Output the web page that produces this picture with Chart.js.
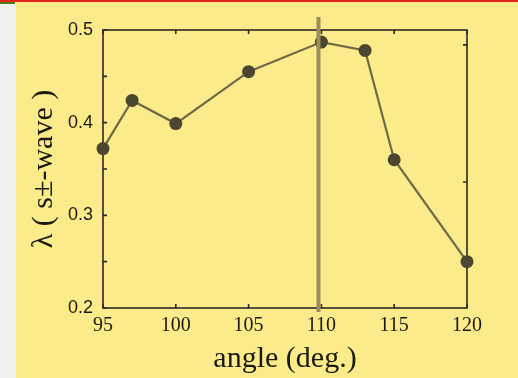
<!DOCTYPE html>
<html>
<head>
<meta charset="utf-8">
<script src="https://cdn.jsdelivr.net/npm/chart.js@4.4.1/dist/chart.umd.min.js"></script>
<style>
  html, body { margin: 0; padding: 0; background: #FCEB8A; overflow: hidden; }
  canvas { display: block; }
</style>
</head>
<body>
<canvas id="c" width="518" height="378"></canvas>
<script>
// Measured order parameter versus angle
const angles = [95, 97, 100, 105, 110, 113, 115, 120];
const lambdaValues = [0.372, 0.424, 0.399, 0.455, 0.487, 0.478, 0.360, 0.250];

// Axis ticks
const xTickValues = [95, 100, 105, 110, 115, 120];
const yTickValues = [0.2, 0.25, 0.3, 0.35, 0.4, 0.45, 0.5];
const yLabelValues = [0.2, 0.3, 0.4, 0.5];
const rightTickValues = [0.484, 0.336];

// Vertical marker position (deg.)
const markerAngle = 109.8;

const INK = '#2b2a20';

const framePlugin = {
  id: 'frame',
  beforeDraw(chart) {
    const { ctx, width } = chart;
    ctx.save();
    // pale strip on the left edge
    ctx.fillStyle = '#F1F1EF';
    ctx.fillRect(0, 0, 16, chart.height);
    // top rule
    ctx.fillStyle = '#4E7A1E';
    ctx.fillRect(0, 1, 15, 3);
    ctx.fillStyle = '#E2261A';
    ctx.fillRect(0, 0, width, 2);
    ctx.restore();
  },
  beforeDatasetsDraw(chart) {
    const { ctx, chartArea: a, scales: { x, y } } = chart;
    ctx.save();
    ctx.strokeStyle = INK;
    ctx.lineWidth = 1.6;
    ctx.strokeRect(a.left, a.top, a.right - a.left, a.bottom - a.top);
    ctx.beginPath();
    const t = 4;
    xTickValues.forEach(v => {
      const px = x.getPixelForValue(v);
      ctx.moveTo(px, a.bottom); ctx.lineTo(px, a.bottom - t);
      ctx.moveTo(px, a.top); ctx.lineTo(px, a.top + t);
    });
    yTickValues.forEach(v => {
      const py = y.getPixelForValue(v);
      ctx.moveTo(a.left, py); ctx.lineTo(a.left + t, py);
    });
    rightTickValues.forEach(v => {
      const py = y.getPixelForValue(v);
      ctx.moveTo(a.right, py); ctx.lineTo(a.right - t, py);
    });
    ctx.stroke();
    ctx.restore();
  },
  afterDatasetsDraw(chart) {
    const { ctx, chartArea: a, scales: { x } } = chart;
    const px = x.getPixelForValue(markerAngle);
    ctx.save();
    ctx.strokeStyle = '#9A8E5C';
    ctx.lineWidth = 4;
    ctx.beginPath();
    ctx.moveTo(px, a.top - 13);
    ctx.lineTo(px, a.bottom + 4);
    ctx.stroke();
    ctx.restore();
  }
};

new Chart(document.getElementById('c'), {
  type: 'line',
  data: {
    datasets: [{
      data: angles.map((a, i) => ({ x: a, y: lambdaValues[i] })),
      borderColor: '#6E6A48',
      borderWidth: 2.2,
      pointRadius: 6.5,
      pointBackgroundColor: '#4A4630',
      pointBorderColor: '#4A4630',
      pointBorderWidth: 0,
      tension: 0,
      clip: false
    }]
  },
  options: {
    responsive: false,
    devicePixelRatio: 1,
    animation: false,
    events: [],
    layout: { padding: { top: 30, right: 51, left: 0, bottom: 0 } },
    plugins: { legend: { display: false }, tooltip: { enabled: false } },
    scales: {
      x: {
        type: 'linear',
        min: 95,
        max: 120,
        afterBuildTicks(scale) { scale.ticks = xTickValues.map(v => ({ value: v })); },
        afterFit(scale) { scale.height = 70; },
        grid: { display: false, drawTicks: false },
        border: { display: false },
        ticks: {
          padding: 6,
          color: '#1a1a14',
          font: { family: '"Liberation Serif", serif', size: 20 },
          callback: v => String(v)
        },
        title: {
          display: true,
          text: 'angle (deg.)',
          color: '#1a1a14',
          font: { family: '"Liberation Serif", serif', size: 30 },
          padding: { top: 0, bottom: 1 }
        }
      },
      y: {
        type: 'linear',
        min: 0.2,
        max: 0.5,
        afterBuildTicks(scale) { scale.ticks = yTickValues.map(v => ({ value: v })); },
        afterFit(scale) { scale.width = 103; },
        grid: { display: false, drawTicks: false },
        border: { display: false },
        ticks: {
          padding: 10,
          color: '#1a1a14',
          font: { family: '"Liberation Sans", sans-serif', size: 18 },
          callback: v => yLabelValues.some(l => Math.abs(l - v) < 1e-9) ? v.toFixed(1) : ''
        },
        title: {
          display: true,
          text: 'λ ( s±-wave )',
          color: '#1a1a14',
          font: { family: '"Liberation Serif", serif', size: 30 },
          padding: { top: 26, bottom: 0 }
        }
      }
    }
  },
  plugins: [framePlugin]
});
</script>
</body>
</html>
